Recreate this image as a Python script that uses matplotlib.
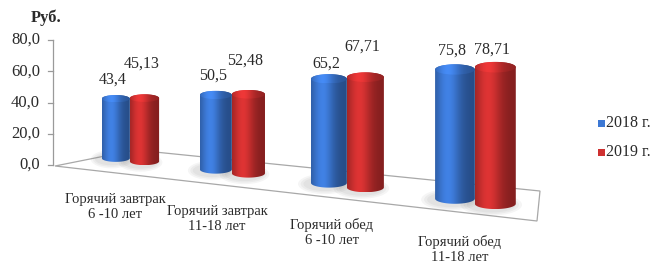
import numpy as np
import matplotlib
matplotlib.use("Agg")
import matplotlib.pyplot as plt
from matplotlib.path import Path
from matplotlib.patches import PathPatch, Ellipse, Polygon

plt.rcParams['font.family'] = ['Liberation Serif', 'DejaVu Serif']

# data
categories = ["Горячий завтрак\n6 -10 лет", "Горячий завтрак\n11-18 лет",
              "Горячий обед\n6 -10 лет", "Горячий обед\n11-18 лет"]
vals_2018 = [43.4, 50.5, 65.2, 75.8]
vals_2019 = [45.13, 52.48, 67.71, 78.71]
labels_2018 = ["43,4", "50,5", "65,2", "75,8"]
labels_2019 = ["45,13", "52,48", "67,71", "78,71"]
series_names = ["2018 г.", "2019 г."]
yticks = [0, 20, 40, 60, 80]
ytick_labels = ["0,0", "20,0", "40,0", "60,0", "80,0"]

# look
colors = [(60, 120, 212), (206, 48, 48)]
label_lift = [[15, 31], [15, 29], [11, 26], [14, 12]]
W, H = 656, 264
TXT = '#2a2a2a'


# pseudo 3d projection (pixel space), X = position along category axis
def sx(X):
    return 130 + 95.5 * X + 6.5 * X ** 2


def sbase(X):
    return 163.5 + 11 * X + 1.1 * X ** 2


def sscale(X):
    return 1.555 + 0.1 * X


def swidth(X):
    return 0.3 * (95.5 + 13 * X)


def shade(rgb, n=64, lift=0.0):
    t = np.linspace(0, 1, n)
    b = 0.64 + 0.44 * np.exp(-((t - 0.32) / 0.32) ** 2) + lift
    c = np.array(rgb) / 255.0
    img = np.clip(c[None, :] * b[:, None], 0, 1)
    return img[None, :, :]


def cylinder(ax, X, value, rgb):
    cx, w = sx(X), swidth(X)
    yb = sbase(X)
    yt = yb - value * sscale(X)
    ry = 0.13 * w
    xl, xr = cx - w / 2, cx + w / 2
    # soft shadow under the base
    for k in range(3):
        ax.add_patch(Ellipse((cx - 4, yb - ry + 1), w * (1.2 + 0.15 * k), 2 * ry + 5 + 3 * k,
                             color='#808080', alpha=0.08, lw=0, zorder=2))
    th = np.linspace(np.pi, 0, 40)
    bot = np.column_stack([cx + np.cos(th) * w / 2, yb - ry + np.sin(th) * ry])
    top = np.column_stack([cx - np.cos(th) * w / 2, yt + ry - np.sin(th) * ry])
    verts = np.vstack([[xl, yt + ry], bot, [xr, yt + ry], top])
    body = PathPatch(Path(verts), facecolor='none', edgecolor='none')
    ax.add_patch(body)
    im = ax.imshow(shade(rgb), extent=(xl, xr, yb, yt), aspect='auto', zorder=3,
                   interpolation='bilinear')
    im.set_clip_path(body)
    cap = Ellipse((cx, yt + ry), w, 2 * ry, facecolor='none', edgecolor='none')
    ax.add_patch(cap)
    im2 = ax.imshow(shade(rgb, lift=0.08), extent=(xl, xr, yt + 2 * ry, yt), aspect='auto',
                    zorder=4, interpolation='bilinear')
    im2.set_clip_path(cap)
    return cx, yt


fig = plt.figure(figsize=(W / 100, H / 100), dpi=100)
ax = fig.add_axes([0, 0, 1, 1])
ax.set_xlim(0, W)
ax.set_ylim(H, 0)
ax.axis('off')

# floor
floor = Polygon([(55, 166), (135, 150), (540, 191), (537, 221)], closed=True,
                facecolor='white', edgecolor='#a8a8a8', lw=0.9, zorder=1)
ax.add_patch(floor)

# y axis
y0, ys = 165, 125 / 80
ax.plot([53, 53], [y0, y0 - 80 * ys], color='#9a9a9a', lw=0.9, zorder=1)
for v, lab in zip(yticks, ytick_labels):
    yy = y0 - v * ys
    ax.plot([48, 53], [yy, yy], color='#9a9a9a', lw=0.9, zorder=1)
    ax.text(40, yy, lab, ha='right', va='center', fontsize=12, color=TXT)
ax.text(46, 18, "Руб.", ha='center', va='center', fontsize=12, fontweight='bold', color=TXT)

# cylinders
for g in range(len(categories)):
    for s, (vals, labs) in enumerate([(vals_2018, labels_2018), (vals_2019, labels_2019)]):
        X = g + (-0.15 if s == 0 else 0.15)
        cx, yt = cylinder(ax, X, vals[g], colors[s])
        ax.text(cx - 3, yt - label_lift[g][s], labs[g], ha='center', va='center',
                fontsize=11.5, color=TXT, zorder=5)
    ax.text(sx(g) - 15, sbase(g) + 43, categories[g], ha='center', va='center',
            fontsize=10.5, color=TXT, linespacing=1.2)

# legend
for s, name in enumerate(series_names):
    yy = 123 + 29 * s
    c = np.array(colors[s]) / 255
    ax.add_patch(plt.Rectangle((598, yy - 3.5), 7, 7, facecolor=c, edgecolor='none'))
    ax.text(606, yy, name, ha='left', va='center', fontsize=11.5, color=TXT)

fig.savefig("out.png", dpi=100)
